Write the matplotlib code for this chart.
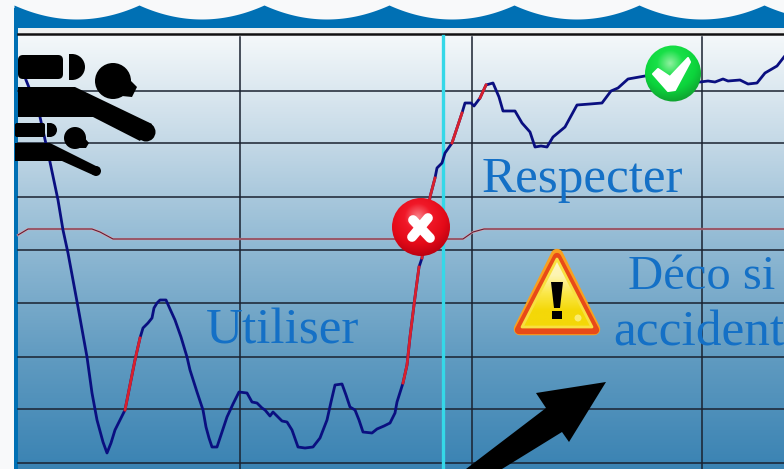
import numpy as np
from matplotlib import pyplot as plt
from matplotlib.colors import LinearSegmentedColormap
from matplotlib.patches import Circle, Polygon, Rectangle, FancyBboxPatch, Wedge

# dive profile (axes run in picture pixels)
profile_x = [26,32,40,50,58,63,68,78,87,92,97,103,107,111,115,120,125,130,135,140,143,148,152,154,157,160,166,170,175,181,187,190,197,203,206,209,212,217,222,227,233,239,247,252,257,262,265,270,273,278,282,287,292,298,305,313,320,327,331,335,342,346,350,355,359,363,372,377,384,390,395,397,403,407,410,415,419,422,430,435,437,442,445,452,457,462,465,471,474,480,486,493,499,503,515,522,530,535,541,547,553,565,577,590,602,611,618,628,645,660,680,700,708,715,723,728,740,748,757,765,777,784]
profile_y = [80,95,117,162,200,230,253,307,357,393,420,442,453,443,430,420,410,385,360,338,328,323,318,308,303,300,300,309,320,337,357,370,392,410,427,438,447,447,432,417,404,392,393,402,403,408,410,416,412,417,421,422,430,447,448,447,438,420,402,385,384,395,407,410,420,432,433,429,426,423,413,402,383,365,337,297,267,258,197,178,168,163,153,143,128,113,103,103,106,98,85,83,97,111,111,123,132,147,146,147,137,127,105,104,103,91,88,79,76,72,78,82,81,82,79,81,80,84,83,73,66,57]
# stretches of the profile drawn in red (start x, end x)
red_x0 = [125,403,422,452,480]
red_x1 = [140,419,435,462,486]

limit_x = [18,28,92,100,113,400,445,463,473,484,784]
limit_y = [235,229,229,232,239,239,239,239,232,229,229]

grid_y = [91,143,197,250,303,357,409,463]
grid_x = [240,472,702]
cursor_x = 443

fig = plt.figure(figsize=(7.84,4.69),dpi=100)
ax = fig.add_axes([0,0,1,1])
fig.patch.set_facecolor('#f8f9fa')

# background gradient
cmap = LinearSegmentedColormap.from_list('sea',['#f4f8fa','#c3d8e6','#8db7d2','#5f9ac0','#3a83b3'])
ax.imshow(np.linspace(0,1,256).reshape(-1,1),cmap=cmap,extent=[18,784,469,36],aspect='auto',zorder=0)

# blue frame and wavy top
ax.add_patch(Rectangle((14,8),4,461,color='#0070b4',lw=0,zorder=1))
wave_x = np.arange(14,785)
crests = 139+125*np.arange(-1,6)
dist = np.min(np.abs(wave_x[:,None]-crests),axis=1)/62.5
wave_y = 5+14*(1-(1-dist)**2)
ax.fill_between(wave_x,wave_y,28,color='#0070b4',lw=0,zorder=1)
ax.add_patch(Rectangle((18,28),766,6,color='#eef0f0',lw=0,zorder=1))
ax.plot([18,784],[34,34],color='#111111',lw=1.8,zorder=2)

for y in grid_y:
    ax.plot([18,784],[y,y],color='#1a2230',lw=1.1,zorder=2)
for x in grid_x:
    ax.plot([x,x],[37,469],color='#1a2230',lw=1.1,zorder=2)

ax.plot(limit_x,limit_y,color='#e8a0a8',lw=1.6,zorder=2.5)
ax.plot(limit_x,limit_y,color='#5a2038',lw=0.8,zorder=2.6)
ax.plot([cursor_x,cursor_x],[36,469],color='#35d8e8',lw=2.4,zorder=3)

px = np.array(profile_x)
py = np.array(profile_y)
ax.plot(px,py,color='#0a0f80',lw=2.0,zorder=4)
for a,b in zip(red_x0,red_x1):
    m = (px>=a)&(px<=b)
    ax.plot(px[m],py[m],color='#d8202c',lw=2.0,zorder=4.1)

# big diver
ax.add_patch(FancyBboxPatch((18,55),45,24,boxstyle='round,pad=0,rounding_size=5',color='k',lw=0,zorder=5))
ax.add_patch(Wedge((72,67),13,-90,90,color='k',lw=0,zorder=5))
ax.add_patch(Rectangle((69,54),4,26,color='k',lw=0,zorder=5))
ax.add_patch(Circle((113,81),18,color='k',lw=0,zorder=5))
ax.add_patch(Polygon([(128,78),(137,87),(132,97),(122,96)],color='k',lw=0,zorder=5))
ax.add_patch(Polygon([(18,87),(75,87),(152,124),(140,141),(93,117),(18,117)],color='k',lw=0,zorder=5))
ax.add_patch(Circle((146,132),9.5,color='k',lw=0,zorder=5))

# smaller diver, clipped at the frame
ax.add_patch(FancyBboxPatch((15,123),30,14,boxstyle='round,pad=0,rounding_size=2',color='k',lw=0,zorder=5))
ax.add_patch(Wedge((50,130),7,-90,90,color='k',lw=0,zorder=5))
ax.add_patch(Rectangle((47,123),4,14,color='k',lw=0,zorder=5))
ax.add_patch(Circle((75,138),11,color='k',lw=0,zorder=5))
ax.add_patch(Polygon([(83,136),(89,143),(86,148),(78,148)],color='k',lw=0,zorder=5))
ax.add_patch(Polygon([(15,143),(50,143),(100,168),(93,175),(62,161),(15,161)],color='k',lw=0,zorder=5))
ax.add_patch(Circle((96,171),5,color='k',lw=0,zorder=5))

# labels
blue = '#1470c6'
ax.text(482,192,'Respecter',family='Liberation Serif',fontsize=36.8,color=blue,zorder=6)
ax.text(206,344,'Utiliser',family='Liberation Serif',fontsize=36.8,color=blue,zorder=6)
ax.text(628,289,'Déco si',family='Liberation Serif',fontsize=35,color=blue,zorder=6)
ax.text(613,345,'accident',family='Liberation Serif',fontsize=37,color=blue,zorder=6)

# black arrow
ax.add_patch(Polygon([(466,469),(546,408),(536,393),(606,382),(569,442),(562,432),(502,469)],color='k',lw=0,zorder=6))

# badges with a soft radial shading
def badge(cx,cy,r,colors,z):
    g = np.linspace(-1.1,1.1,120)
    xx,yy = np.meshgrid(g,g)
    val = np.clip(np.hypot(xx+0.1,yy+0.35)/1.4,0,1)
    shade = LinearSegmentedColormap.from_list('b',colors)
    im = ax.imshow(val,cmap=shade,vmin=0,vmax=1,extent=[cx-1.1*r,cx+1.1*r,cy+1.1*r,cy-1.1*r],aspect='auto',zorder=z)
    im.set_clip_path(Circle((cx,cy),r,transform=ax.transData))

badge(421,227,29,['#fa8088','#f01828','#e40a18','#b80010'],7)
ax.plot([413,430],[220,238],color='w',lw=7,solid_capstyle='round',zorder=8)
ax.plot([428,412],[218,237],color='w',lw=7,solid_capstyle='round',zorder=8)

badge(673,73.5,28,['#90f0a0','#18e048','#0cd43c','#10a030'],7)
ax.add_patch(Polygon([(653,74),(658,69),(670,77),(688,58),(690,62),(675,90),(668,91)],facecolor='w',edgecolor='w',lw=1.5,joinstyle='round',zorder=8))

# warning sign
sign = LinearSegmentedColormap.from_list('s',['#fdf6c8','#fdf4b0','#fbe84a','#f4d808','#f4d808'])
ax.add_patch(Polygon([(557,255),(520,329),(594,329)],facecolor='#f05a18',edgecolor='#f8a020',lw=9,joinstyle='round',zorder=6.9))
ax.add_patch(Polygon([(557,257),(519,330),(595,330)],facecolor='#f05a18',edgecolor='#e84a18',lw=6,joinstyle='round',zorder=7))
tri = Polygon([(557,259),(522,327),(592,327)],facecolor='none',edgecolor='#f8e040',lw=2,joinstyle='round',zorder=7.2)
ax.add_patch(tri)
im = ax.imshow(np.linspace(0,1,100).reshape(-1,1),cmap=sign,extent=[515,599,328,258],aspect='auto',zorder=7.1)
im.set_clip_path(Polygon([(557,258),(521,328),(593,328)],transform=ax.transData))
ax.add_patch(Polygon([(551,282),(563,282),(560,308),(554,308)],color='k',lw=0,zorder=7.3))
ax.add_patch(Rectangle((552,311),10,8,color='k',lw=0,zorder=7.3))
ax.add_patch(Circle((578,318),3.5,color='#fdf4a0',lw=0,alpha=0.7,zorder=7.3))

ax.set_xlim(0,784)
ax.set_ylim(469,0)
ax.axis('off')
plt.savefig('out.png',dpi=100)
